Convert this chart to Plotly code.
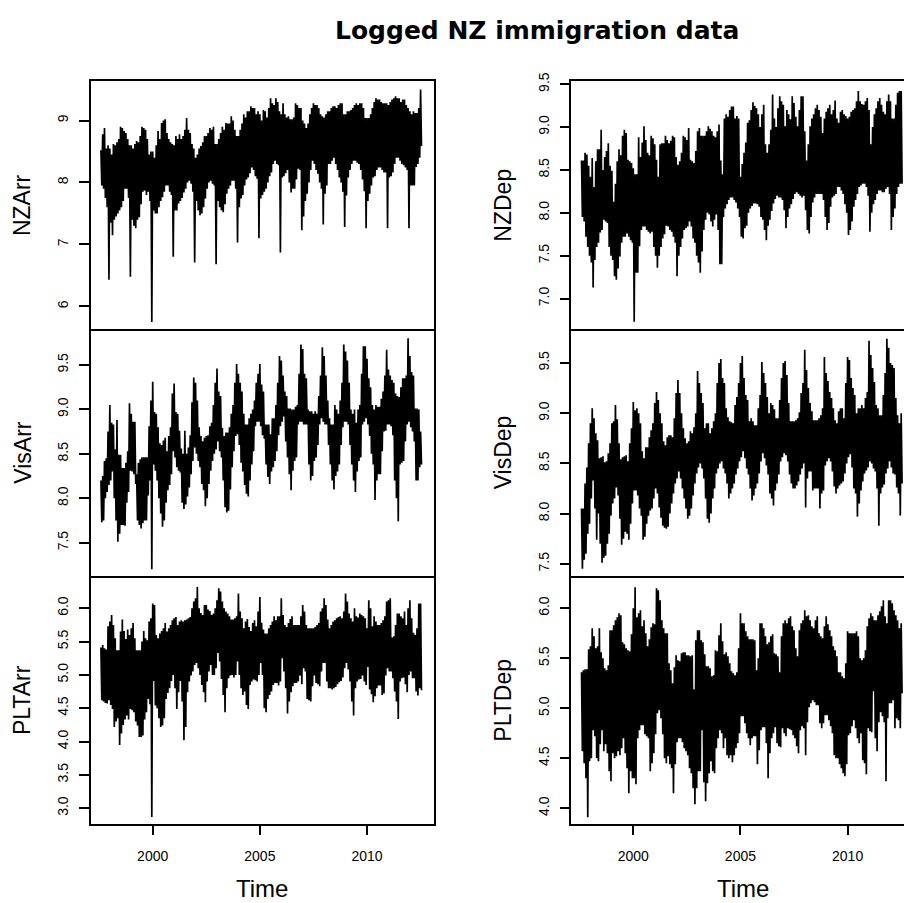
import plotly.graph_objects as go

W, H = 904, 903

# Monthly series, Aug 1997 .. Jul 2012: for every month the highest and the
# lowest daily (logged) count, so the dense daily band is traced by a zigzag.
START_YEAR, START_MONTH = 1997, 8

NZARR_HI = [
    8.52, 8.78, 8.88, 8.55, 8.60,
    8.55, 8.45, 8.62, 8.60, 8.65, 8.70, 8.90, 8.88, 8.83, 8.80, 8.70, 8.60,
    8.60, 8.55, 8.62, 8.67, 8.65, 8.75, 8.90, 8.88, 8.85, 8.70, 8.45, 8.50,
    8.50, 8.40, 8.60, 8.83, 8.70, 8.96, 9.00, 9.02, 8.80, 8.70, 8.65, 8.62,
    8.60, 8.75, 8.70, 8.78, 8.70, 8.75, 8.85, 9.04, 8.85, 8.80, 8.62, 8.55,
    8.40, 8.45, 8.55, 8.59, 8.65, 8.75, 8.75, 8.80, 8.88, 8.85, 8.90, 8.62,
    8.62, 8.70, 8.80, 8.90, 8.85, 8.96, 8.95, 8.95, 9.07, 9.00, 8.85, 8.75,
    8.75, 8.85, 8.95, 9.10, 9.05, 9.15, 9.15, 9.23, 9.20, 9.20, 9.10, 9.15,
    9.10, 9.00, 9.17, 9.15, 9.05, 9.20, 9.36, 9.28, 9.25, 9.36, 9.30, 9.15,
    9.10, 9.28, 9.10, 9.05, 9.07, 9.02, 9.02, 9.05, 9.28, 9.25, 9.20, 9.20,
    9.00, 8.95, 8.88, 8.95, 9.10, 9.20, 9.28, 9.25, 9.25, 9.20, 9.10, 9.07,
    9.05, 9.10, 9.15, 9.15, 9.20, 9.23, 9.23, 9.20, 9.25, 9.28, 9.28, 9.10,
    9.10, 9.15, 9.15, 9.17, 9.20, 9.25, 9.28, 9.25, 9.28, 9.28, 9.20, 9.04,
    9.04, 9.04, 9.10, 9.20, 9.30, 9.36, 9.34, 9.34, 9.30, 9.28, 9.28, 9.28,
    9.25, 9.30, 9.34, 9.36, 9.39, 9.36, 9.36, 9.30, 9.34, 9.34, 9.25, 9.20,
    9.15, 9.10, 9.15, 9.12, 9.12, 9.20, 9.50,
]
NZARR_LO = [
    7.95, 7.90, 7.75, 7.60, 6.43,
    7.35, 7.15, 7.40, 7.45, 7.50, 7.55, 7.60, 7.70, 7.90, 7.90, 7.75, 6.48,
    7.40, 7.30, 7.26, 7.40, 7.44, 7.65, 7.85, 7.87, 7.80, 7.85, 7.70, 5.75,
    7.55, 7.50, 7.50, 7.60, 7.70, 7.76, 7.85, 7.95, 7.95, 7.85, 7.80, 6.80,
    7.55, 7.55, 7.66, 7.70, 7.75, 7.84, 7.90, 8.00, 8.03, 7.98, 7.85, 6.71,
    7.70, 7.55, 7.47, 7.50, 7.60, 7.74, 7.90, 8.00, 8.03, 7.98, 7.95, 6.68,
    7.70, 7.60, 7.55, 7.52, 7.65, 7.82, 7.90, 7.95, 8.03, 8.03, 7.90, 7.03,
    7.60, 7.74, 7.80, 7.95, 8.05, 8.08, 8.15, 8.24, 8.20, 8.10, 8.06, 7.10,
    7.74, 7.80, 7.85, 7.90, 8.00, 8.10, 8.16, 8.30, 8.35, 8.30, 8.28, 6.87,
    8.08, 8.10, 8.15, 8.20, 8.00, 7.84, 7.90, 7.90, 8.05, 8.22, 8.20, 7.23,
    7.45, 7.70, 7.82, 8.00, 8.20, 8.35, 8.30, 8.20, 8.14, 8.00, 7.90, 7.32,
    7.82, 7.95, 8.30, 8.30, 8.35, 8.40, 8.30, 8.20, 8.08, 8.00, 7.85, 7.28,
    7.79, 8.08, 8.20, 8.30, 8.35, 8.35, 8.32, 8.30, 8.20, 8.05, 7.86, 7.26,
    7.70, 7.82, 7.95, 8.08, 8.10, 8.20, 8.24, 8.24, 8.20, 8.16, 8.16, 7.26,
    8.08, 8.10, 8.16, 8.30, 8.40, 8.40, 8.35, 8.30, 8.28, 8.24, 8.20, 7.26,
    7.95, 7.95, 7.95, 8.25, 8.30, 8.40, 8.59,
]

VISARR_HI = [
    8.20, 8.25, 8.42, 8.45, 8.75,
    9.05, 8.85, 8.83, 8.55, 8.88, 8.49, 8.49, 8.34, 8.34, 8.40, 8.53, 9.07,
    8.95, 8.86, 8.86, 8.27, 8.40, 8.44, 8.46, 8.46, 8.46, 8.46, 8.81, 9.10,
    9.31, 8.97, 8.95, 8.80, 8.62, 8.60, 8.65, 8.68, 8.53, 8.70, 8.80, 9.18,
    9.29, 8.97, 8.95, 8.76, 8.56, 8.50, 8.76, 8.50, 8.57, 8.71, 9.08, 9.36,
    9.30, 9.10, 8.80, 8.70, 8.64, 8.68, 8.70, 8.71, 8.81, 8.85, 9.05, 9.30,
    9.46, 9.20, 9.15, 8.79, 8.70, 8.74, 8.74, 8.80, 8.95, 9.05, 9.30, 9.51,
    9.40, 9.30, 9.20, 8.95, 8.83, 8.83, 8.90, 8.95, 9.00, 9.10, 9.30, 9.40,
    9.51, 9.28, 9.20, 8.83, 8.83, 8.83, 8.72, 8.90, 8.90, 9.05, 9.30, 9.60,
    9.55, 9.38, 9.20, 9.15, 9.01, 9.01, 9.00, 9.00, 9.03, 9.05, 9.40, 9.73,
    9.68, 9.40, 9.35, 9.00, 8.98, 8.98, 8.95, 8.98, 8.95, 9.15, 9.38, 9.70,
    9.60, 9.38, 9.10, 8.90, 8.83, 8.83, 9.05, 9.00, 8.95, 9.10, 9.30, 9.73,
    9.65, 9.55, 9.30, 9.00, 8.95, 9.00, 8.85, 9.00, 9.05, 9.40, 9.71, 9.71,
    9.57, 9.35, 9.25, 9.05, 9.00, 9.05, 9.03, 9.03, 9.12, 9.20, 9.38, 9.67,
    9.45, 9.38, 9.33, 9.30, 9.18, 9.15, 9.14, 9.25, 9.35, 9.35, 9.38, 9.80,
    9.60, 9.42, 9.38, 9.01, 9.01, 9.00, 8.75,
]
VISARR_LO = [
    7.73, 7.75, 8.00, 8.07, 8.15,
    8.20, 8.30, 8.00, 7.75, 7.51, 7.60, 7.70, 7.70, 7.69, 7.95, 8.07, 8.31,
    8.30, 8.27, 8.16, 7.75, 7.70, 7.66, 7.72, 7.75, 7.75, 8.03, 8.20, 7.20,
    8.38, 8.31, 8.20, 8.00, 7.83, 7.68, 7.75, 7.95, 8.09, 8.15, 8.27, 8.53,
    8.46, 8.35, 8.31, 8.29, 7.95, 7.88, 7.93, 8.02, 8.12, 8.27, 8.42, 8.57,
    8.50, 8.42, 8.35, 8.16, 8.09, 7.91, 8.00, 8.16, 8.31, 8.42, 8.50, 8.55,
    8.64, 8.53, 8.46, 8.20, 7.90, 7.84, 7.86, 8.10, 8.35, 8.53, 8.70, 8.72,
    8.60, 8.40, 8.30, 8.15, 8.05, 8.02, 8.20, 8.38, 8.53, 8.81, 8.86, 8.86,
    8.81, 8.71, 8.67, 8.38, 8.24, 8.16, 8.30, 8.35, 8.42, 8.53, 8.71, 8.81,
    8.86, 8.92, 8.64, 8.46, 8.27, 8.09, 8.31, 8.42, 8.46, 8.83, 8.86, 8.86,
    8.83, 8.83, 8.83, 8.38, 8.20, 8.25, 8.42, 8.46, 8.60, 8.83, 8.90, 8.86,
    8.83, 8.83, 8.60, 8.38, 8.20, 8.10, 8.25, 8.30, 8.38, 8.60, 8.80, 8.86,
    8.86, 8.83, 8.60, 8.38, 8.20, 8.07, 8.30, 8.42, 8.46, 8.83, 8.86, 8.90,
    8.83, 8.70, 8.50, 8.38, 7.98, 8.20, 8.27, 8.27, 8.53, 8.75, 8.76, 8.83,
    8.83, 8.81, 8.71, 8.20, 8.00, 7.74, 8.38, 8.40, 8.42, 8.64, 8.83, 8.86,
    8.80, 8.75, 8.64, 8.20, 8.20, 8.35, 8.38,
]

PLTARR_HI = [
    5.41, 5.45, 5.40, 5.38, 5.73,
    5.80, 5.90, 5.75, 5.55, 5.37, 5.37, 5.65, 5.83, 5.66, 5.54, 5.68, 5.60,
    5.70, 5.78, 5.55, 5.37, 5.37, 5.37, 5.50, 5.66, 5.55, 5.52, 5.80, 5.85,
    6.07, 6.05, 5.60, 5.55, 5.62, 5.66, 5.70, 5.78, 5.65, 5.70, 5.75, 5.82,
    5.85, 5.87, 5.75, 5.80, 5.82, 5.80, 5.82, 5.83, 5.85, 5.87, 6.00, 6.10,
    6.15, 6.32, 6.00, 5.93, 5.90, 6.05, 6.05, 5.98, 5.96, 5.90, 5.92, 6.00,
    6.12, 6.30, 6.25, 6.10, 6.00, 5.95, 5.92, 5.88, 5.83, 5.83, 5.85, 5.88,
    6.22, 5.95, 5.85, 5.70, 5.80, 5.84, 5.72, 5.66, 5.78, 5.82, 5.73, 5.95,
    6.17, 5.78, 5.68, 5.62, 5.62, 5.70, 5.75, 5.80, 5.88, 5.82, 5.88, 5.88,
    6.15, 5.90, 5.75, 5.72, 5.78, 5.84, 5.88, 5.75, 5.75, 5.75, 5.75, 5.88,
    6.05, 5.95, 5.75, 5.70, 5.70, 5.70, 5.70, 5.72, 5.75, 5.78, 5.95, 6.00,
    6.15, 6.05, 5.83, 5.70, 5.75, 5.80, 5.82, 5.85, 5.87, 5.88, 5.85, 5.95,
    6.22, 6.10, 5.92, 5.85, 5.80, 6.00, 5.88, 5.86, 5.92, 5.90, 5.88, 5.85,
    5.70, 6.12, 6.00, 5.73, 5.88, 5.80, 5.75, 5.75, 5.78, 5.82, 5.88, 6.10,
    6.12, 6.15, 5.56, 5.58, 5.75, 5.92, 5.92, 5.88, 5.85, 5.95, 5.75, 6.00,
    6.12, 5.85, 5.63, 5.60, 5.70, 6.07, 6.07,
]
PLTARR_LO = [
    4.62, 4.60, 4.58, 4.57, 4.62,
    4.55, 4.49, 4.22, 4.30, 4.35, 3.95, 4.12, 4.25, 4.33, 4.39, 4.33, 4.49,
    4.47, 4.44, 4.30, 4.24, 4.07, 4.07, 4.09, 4.33, 4.44, 4.64, 4.56, 2.87,
    4.91, 4.54, 4.50, 4.35, 4.22, 4.24, 4.35, 4.64, 4.73, 4.80, 4.91, 5.00,
    4.80, 4.49, 4.74, 4.91, 4.60, 4.02, 4.22, 4.74, 4.90, 4.99, 5.05, 5.15,
    5.18, 5.10, 5.00, 4.85, 4.74, 4.59, 4.90, 5.05, 5.15, 5.00, 5.00, 5.10,
    5.33, 5.20, 4.94, 4.70, 4.44, 4.80, 4.95, 4.99, 5.00, 4.96, 5.00, 5.20,
    5.00, 4.80, 4.70, 4.75, 4.55, 4.49, 4.85, 4.90, 4.93, 4.92, 4.90, 5.00,
    5.18, 5.00, 4.50, 4.44, 4.64, 4.70, 4.75, 4.85, 4.88, 4.88, 4.84, 4.90,
    5.25, 5.05, 4.80, 4.42, 4.60, 4.74, 4.83, 4.88, 4.88, 4.90, 4.99, 4.86,
    5.10, 5.05, 4.64, 4.62, 4.60, 4.83, 4.99, 4.88, 4.86, 4.83, 5.05, 5.18,
    5.18, 4.90, 4.80, 4.80, 4.78, 4.80, 4.82, 4.86, 4.89, 4.91, 4.96, 5.10,
    5.18, 5.08, 4.90, 4.60, 4.39, 4.80, 4.90, 4.93, 4.94, 4.99, 4.90, 4.85,
    5.12, 4.78, 4.71, 4.59, 4.68, 4.80, 4.84, 4.84, 4.70, 4.72, 4.99, 5.10,
    5.05, 5.05, 4.95, 4.75, 4.60, 4.34, 4.90, 4.95, 4.96, 4.86, 4.74, 5.00,
    5.05, 4.95, 4.95, 4.75, 4.69, 4.80, 4.77,
]

NZDEP_HI = [
    8.61, 8.61, 8.70, 8.68, 8.55,
    8.42, 8.64, 8.30, 8.60, 8.74, 8.74, 8.97, 8.50, 8.65, 8.72, 8.81, 8.55,
    8.49, 8.13, 8.34, 8.60, 8.74, 8.67, 8.90, 8.97, 8.93, 8.62, 8.60, 8.58,
    8.52, 8.45, 8.45, 8.88, 8.65, 8.82, 9.01, 8.85, 8.70, 8.67, 8.90, 8.87,
    8.80, 8.62, 8.42, 8.80, 8.81, 8.81, 8.90, 8.85, 8.81, 8.84, 8.90, 8.88,
    8.65, 8.56, 8.60, 8.70, 8.90, 8.88, 8.85, 8.99, 8.62, 8.60, 8.58, 8.72,
    8.95, 8.99, 8.90, 8.90, 8.90, 8.95, 9.01, 8.98, 8.95, 8.90, 8.88, 8.95,
    9.03, 8.61, 8.45, 9.10, 9.15, 9.12, 9.20, 9.24, 9.24, 9.10, 9.13, 9.10,
    8.42, 8.57, 8.70, 8.82, 9.05, 9.08, 9.20, 9.29, 9.25, 9.22, 9.15, 9.00,
    9.15, 9.26, 8.80, 8.70, 8.80, 8.97, 9.38, 9.10, 9.00, 9.22, 9.36, 9.30,
    9.26, 9.01, 9.20, 9.15, 9.09, 9.36, 9.28, 9.12, 9.01, 9.20, 9.36, 9.36,
    8.95, 8.61, 8.80, 9.01, 9.10, 9.15, 9.22, 9.26, 9.20, 9.12, 8.93, 9.10,
    9.18, 9.22, 9.26, 9.15, 9.20, 9.31, 9.10, 9.05, 9.18, 9.20, 9.15, 9.13,
    9.10, 9.12, 9.18, 9.20, 9.22, 9.30, 9.42, 9.30, 9.27, 9.26, 9.30, 9.34,
    9.20, 8.80, 9.00, 9.15, 9.22, 9.30, 9.34, 9.26, 9.18, 9.15, 9.30, 9.38,
    9.30, 9.10, 9.10, 9.26, 9.40, 9.42, 9.42,
]
NZDEP_LO = [
    7.95, 7.90, 7.72, 7.60, 7.50,
    7.42, 7.13, 7.45, 7.60, 7.65, 7.77, 7.80, 7.92, 7.90, 7.88, 7.60, 7.50,
    7.45, 7.26, 7.22, 7.35, 7.49, 7.65, 7.72, 7.72, 7.76, 7.72, 7.68, 7.65,
    6.73, 7.30, 7.30, 7.61, 7.80, 7.84, 7.84, 7.80, 7.78, 7.76, 7.78, 7.60,
    7.50, 7.36, 7.50, 7.60, 7.70, 7.75, 7.85, 7.84, 7.80, 7.78, 7.72, 7.65,
    7.26, 7.50, 7.60, 7.70, 7.80, 7.82, 7.84, 7.90, 7.84, 7.70, 7.65, 7.50,
    7.42, 7.30, 7.55, 7.80, 7.92, 8.00, 7.98, 7.90, 7.84, 7.92, 7.98, 7.80,
    7.40, 7.40, 7.95, 8.05, 8.10, 8.15, 8.18, 8.18, 8.15, 8.12, 8.05, 7.95,
    7.72, 7.70, 7.82, 7.85, 8.00, 8.05, 8.08, 8.11, 8.11, 8.10, 8.07, 7.95,
    7.92, 7.80, 7.68, 7.85, 7.92, 8.02, 8.11, 8.16, 8.20, 8.18, 8.18, 8.15,
    8.03, 7.82, 7.95, 8.05, 8.10, 8.16, 8.22, 8.24, 8.22, 8.20, 8.18, 8.20,
    8.03, 7.80, 7.76, 7.95, 8.12, 8.18, 8.22, 8.22, 8.22, 8.22, 8.15, 7.95,
    7.80, 7.88, 8.07, 8.18, 8.20, 8.22, 8.30, 8.30, 8.26, 8.22, 8.10, 8.00,
    7.74, 7.80, 7.90, 8.07, 8.15, 8.22, 8.30, 8.32, 8.34, 8.34, 8.30, 8.20,
    7.78, 8.00, 8.10, 8.15, 8.22, 8.26, 8.26, 8.24, 8.24, 8.28, 8.30, 8.22,
    7.80, 7.95, 8.05, 8.22, 8.30, 8.34, 8.34,
]

VISDEP_HI = [
    8.05, 8.05, 8.30, 8.46, 8.70,
    8.90, 9.05, 8.95, 8.80, 8.73, 8.55, 8.56, 8.57, 8.51, 8.52, 8.60, 8.70,
    8.90, 8.92, 9.08, 8.94, 8.70, 8.54, 8.56, 8.57, 8.58, 8.52, 8.70, 8.85,
    9.11, 9.03, 9.05, 9.00, 8.90, 8.62, 8.55, 8.66, 8.66, 8.76, 8.83, 8.90,
    9.10, 9.21, 9.13, 9.00, 8.90, 8.72, 8.68, 8.76, 8.78, 8.78, 8.76, 8.95,
    9.20, 9.33, 9.20, 9.00, 8.85, 8.75, 8.70, 8.72, 8.82, 8.80, 8.86, 9.00,
    9.42, 9.30, 9.20, 9.10, 8.85, 8.90, 8.90, 8.80, 8.85, 8.92, 9.00, 9.30,
    9.50, 9.54, 9.35, 9.30, 9.05, 8.96, 8.92, 8.91, 8.90, 9.08, 9.16, 9.30,
    9.50, 9.57, 9.35, 9.18, 9.13, 8.92, 8.95, 8.92, 8.88, 8.88, 9.05, 9.18,
    9.51, 9.40, 9.30, 9.16, 9.00, 9.10, 9.08, 9.04, 8.95, 8.95, 9.13, 9.35,
    9.50, 9.52, 9.38, 9.10, 8.92, 8.92, 8.92, 8.93, 8.95, 9.01, 9.20, 9.30,
    9.63, 9.43, 9.25, 9.10, 9.02, 8.93, 8.93, 8.93, 8.95, 8.98, 9.05, 9.56,
    9.40, 9.32, 9.21, 9.15, 9.05, 8.93, 8.90, 9.02, 9.05, 9.05, 8.95, 9.30,
    9.56, 9.53, 9.35, 9.25, 9.18, 9.00, 9.05, 9.05, 9.08, 9.05, 9.15, 9.21,
    9.72, 9.58, 9.45, 9.31, 9.08, 9.05, 8.98, 8.98, 9.18, 9.40, 9.74, 9.65,
    9.50, 9.48, 9.45, 9.15, 8.98, 8.90, 9.00,
]
VISDEP_LO = [
    7.45, 7.54, 7.60, 7.80, 7.90,
    8.15, 8.33, 8.05, 7.74, 8.00, 7.70, 7.51, 7.56, 7.58, 7.70, 7.80, 7.98,
    8.10, 8.15, 8.26, 8.18, 7.95, 7.69, 7.75, 7.82, 7.80, 7.74, 7.90, 8.10,
    8.23, 8.23, 8.18, 8.05, 7.98, 7.74, 7.77, 7.90, 7.98, 8.03, 8.05, 8.15,
    8.25, 8.20, 8.06, 7.96, 7.88, 7.86, 7.85, 7.87, 8.00, 8.10, 8.20, 8.30,
    8.35, 8.42, 8.35, 8.25, 8.15, 8.05, 7.95, 7.98, 8.05, 8.18, 8.30, 8.40,
    8.46, 8.50, 8.45, 8.35, 8.15, 7.95, 7.91, 8.00, 8.15, 8.25, 8.40, 8.45,
    8.50, 8.52, 8.45, 8.40, 8.30, 8.15, 8.20, 8.25, 8.30, 8.39, 8.45, 8.52,
    8.56, 8.62, 8.55, 8.45, 8.39, 8.25, 8.13, 8.18, 8.25, 8.30, 8.40, 8.52,
    8.60, 8.55, 8.48, 8.39, 8.20, 8.15, 8.08, 8.23, 8.30, 8.39, 8.52, 8.56,
    8.60, 8.58, 8.52, 8.39, 8.30, 8.25, 8.25, 8.28, 8.32, 8.39, 8.45, 8.50,
    8.06, 8.35, 8.42, 8.42, 8.23, 8.25, 8.25, 8.25, 8.05, 8.20, 8.23, 8.48,
    8.52, 8.55, 8.52, 8.42, 8.27, 8.20, 8.25, 8.28, 8.30, 8.32, 8.40, 8.50,
    8.56, 8.59, 8.46, 8.25, 8.20, 7.97, 8.10, 8.23, 8.32, 8.40, 8.43, 8.46,
    8.52, 8.50, 8.45, 8.42, 8.25, 7.88, 8.20, 8.26, 8.29, 8.40, 8.45, 8.52,
    8.46, 8.40, 8.39, 8.26, 8.20, 7.98, 8.30,
]

PLTDEP_HI = [
    5.36, 5.38, 5.39, 5.39, 5.59,
    5.62, 5.80, 5.72, 5.60, 5.62, 5.80, 5.56, 5.50, 5.40, 5.38, 5.43, 5.78,
    5.78, 5.83, 5.88, 5.91, 5.95, 5.93, 5.66, 5.64, 5.60, 5.58, 5.57, 5.74,
    6.00, 6.21, 5.91, 5.95, 5.98, 5.82, 5.88, 5.75, 5.62, 5.69, 5.81, 5.85,
    5.84, 6.20, 6.18, 6.08, 5.88, 5.80, 5.75, 5.75, 5.45, 5.38, 5.25, 5.41,
    5.53, 5.48, 5.47, 5.55, 5.56, 5.56, 5.53, 5.53, 5.52, 5.53, 5.19, 5.68,
    5.78, 5.78, 5.68, 5.66, 5.54, 5.42, 5.42, 5.40, 5.32, 5.33, 5.58, 5.57,
    5.73, 5.85, 5.67, 5.54, 5.56, 5.52, 5.45, 5.37, 5.35, 5.33, 5.36, 5.60,
    5.95, 5.85, 5.85, 5.77, 5.72, 5.69, 5.69, 5.69, 5.68, 5.38, 5.50, 5.85,
    5.85, 5.80, 5.72, 5.64, 5.66, 5.72, 5.74, 5.55, 5.54, 5.52, 5.36, 5.72,
    5.85, 5.88, 5.85, 5.90, 5.92, 5.82, 5.78, 5.60, 5.52, 5.78, 5.85, 5.88,
    5.98, 5.92, 5.93, 5.88, 5.82, 5.80, 5.88, 5.92, 5.75, 5.72, 5.70, 5.82,
    5.92, 5.84, 5.78, 5.72, 5.62, 5.58, 5.52, 5.36, 5.36, 5.32, 5.30, 5.45,
    5.77, 5.75, 5.75, 5.75, 5.75, 5.77, 5.72, 5.50, 5.48, 5.50, 5.58, 5.82,
    5.90, 5.95, 5.92, 5.88, 5.88, 5.93, 5.97, 6.02, 6.08, 5.92, 5.85, 6.08,
    6.08, 6.05, 5.98, 5.93, 5.88, 5.80, 5.85,
]
PLTDEP_LO = [
    4.57, 4.45, 4.30, 3.91, 4.47,
    4.50, 4.78, 4.72, 4.50, 4.47, 4.64, 4.78, 4.57, 4.64, 4.55, 4.37, 4.27,
    4.55, 4.50, 4.52, 4.57, 4.53, 4.60, 4.70, 4.55, 4.40, 4.15, 4.37, 4.30,
    4.30, 4.24, 4.70, 4.78, 4.83, 4.83, 4.74, 4.72, 4.70, 4.37, 4.45, 4.55,
    4.74, 4.95, 4.98, 4.90, 4.74, 4.50, 4.45, 4.52, 4.44, 4.40, 4.15, 4.44,
    4.66, 4.70, 4.70, 4.66, 4.60, 4.57, 4.53, 4.40, 4.35, 4.20, 4.04, 4.20,
    4.37, 4.37, 4.78, 4.26, 4.07, 4.25, 4.35, 4.47, 4.37, 4.35, 4.60, 4.70,
    4.78, 4.75, 4.60, 4.70, 4.53, 4.50, 4.53, 4.46, 4.53, 4.60, 4.65, 4.75,
    4.92, 4.92, 4.85, 4.75, 4.70, 4.63, 4.70, 4.72, 4.72, 4.44, 4.58, 4.78,
    4.81, 4.81, 4.65, 4.30, 4.55, 4.70, 4.75, 4.81, 4.65, 4.62, 4.61, 4.80,
    4.75, 4.72, 4.80, 4.79, 4.78, 4.73, 4.70, 4.62, 4.55, 4.78, 4.82, 4.80,
    4.53, 4.86, 5.01, 5.05, 5.08, 5.06, 5.03, 5.03, 4.85, 4.80, 4.85, 4.93,
    4.93, 4.88, 4.82, 4.75, 4.53, 4.50, 4.50, 4.44, 4.40, 4.35, 4.32, 4.44,
    4.73, 4.75, 4.82, 4.88, 4.80, 4.70, 4.65, 4.75, 4.48, 4.45, 4.34, 4.80,
    4.77, 4.76, 5.17, 4.70, 4.57, 4.86, 4.96, 4.92, 4.86, 4.27, 4.90, 5.05,
    5.05, 5.08, 4.80, 4.90, 4.88, 4.80, 5.15,
]

X_TICKS = [2000, 2005, 2010]

# (y title, high, low, column, row, y range, y tick values, y tick text)
PANELS = [
    ("NZArr", NZARR_HI, NZARR_LO, 0, 0, [5.639, 9.638],
     [6, 7, 8, 9], ["6", "7", "8", "9"]),
    ("NZDep", NZDEP_HI, NZDEP_LO, 1, 0, [6.647, 9.538],
     [7.0, 7.5, 8.0, 8.5, 9.0, 9.5], ["7.0", "7.5", "8.0", "8.5", "9.0", "9.5"]),
    ("VisArr", VISARR_HI, VISARR_LO, 0, 1, [7.122, 9.907],
     [7.5, 8.0, 8.5, 9.0, 9.5], ["7.5", "8.0", "8.5", "9.0", "9.5"]),
    ("VisDep", VISDEP_HI, VISDEP_LO, 1, 1, [7.376, 9.840],
     [7.5, 8.0, 8.5, 9.0, 9.5], ["7.5", "8.0", "8.5", "9.0", "9.5"]),
    ("PLTArr", PLTARR_HI, PLTARR_LO, 0, 2, [2.771, 6.479],
     [3.0, 3.5, 4.0, 4.5, 5.0, 5.5, 6.0],
     ["3.0", "3.5", "4.0", "4.5", "5.0", "5.5", "6.0"]),
    ("PLTDep", PLTDEP_HI, PLTDEP_LO, 1, 2, [3.848, 6.319],
     [4.0, 4.5, 5.0, 5.5, 6.0], ["4.0", "4.5", "5.0", "5.5", "6.0"]),
]

# ---- page geometry (pixels) ----
COL_LEFT = [90.7, 571.3]
COL_RIGHT = [434.3, 904.0]
ROW_TOP = [72.7, 323.0, 573.0]
ROW_BOTTOM = [323.0, 573.0, 822.7]
X_RANGE_LEFT = [1997.107, 2013.14]
PX_PER_YEAR = (COL_RIGHT[0] - COL_LEFT[0]) / (X_RANGE_LEFT[1] - X_RANGE_LEFT[0])

SANS = "Liberation Sans, Arial, sans-serif"
FRAME_W = 1.5
SERIES_W = 1.7


def month_times(n):
    """Decimal-year position of each monthly high and the following low."""
    t0 = START_YEAR + (START_MONTH - 1) / 12.0
    xs = []
    for i in range(n):
        t = t0 + i / 12.0
        xs.extend([t, t + 1.0 / 24.0])
    return xs


def zigzag(hi, lo):
    ys = []
    for h, l in zip(hi, lo):
        ys.extend([h, l])
    return ys


fig = go.Figure()
layout = dict(
    width=W, height=H, autosize=False,
    margin=dict(l=0, r=0, t=0, b=0, pad=0),
    paper_bgcolor="white", plot_bgcolor="white",
    showlegend=False,
    font=dict(family=SANS, color="black"),
)
annotations = []

for k, (name, hi, lo, col, row, yr, tv, tt) in enumerate(PANELS, start=1):
    n = min(len(hi), len(lo))
    fig.add_trace(go.Scatter(
        x=month_times(n), y=zigzag(hi[:n], lo[:n]),
        mode="lines", line=dict(color="black", width=SERIES_W),
        hoverinfo="skip", xaxis=f"x{k}", yaxis=f"y{k}",
    ))

    x_end = X_RANGE_LEFT[0] + (COL_RIGHT[col] - COL_LEFT[col]) / PX_PER_YEAR
    bottom = row == 2
    # only the top row draws its upper edge; lower rows share the line above
    layout[f"xaxis{k}"] = dict(
        domain=[COL_LEFT[col] / W, COL_RIGHT[col] / W],
        anchor=f"y{k}", range=[X_RANGE_LEFT[0], x_end],
        showgrid=False, zeroline=False,
        showline=True, mirror=(row == 0), linecolor="black", linewidth=FRAME_W,
        tickvals=X_TICKS if bottom else [],
        ticktext=[str(v) for v in X_TICKS] if bottom else [],
        ticks="outside" if bottom else "", ticklen=10, tickwidth=FRAME_W,
        tickcolor="black", showticklabels=bottom,
        tickfont=dict(family=SANS, size=14, color="black"),
        ticklabelstandoff=9,
    )
    layout[f"yaxis{k}"] = dict(
        domain=[1 - ROW_BOTTOM[row] / H, 1 - ROW_TOP[row] / H],
        anchor=f"x{k}", range=yr,
        showgrid=False, zeroline=False,
        showline=True, mirror=(col == 0), linecolor="black", linewidth=FRAME_W,
        tickvals=tv, ticktext=tt, tickangle=-90,
        ticks="outside", ticklen=10, tickwidth=FRAME_W, tickcolor="black",
        tickfont=dict(family=SANS, size=14, color="black"),
        ticklabelstandoff=5,
    )

    # y-axis title, rotated, to the left of the tick labels
    annotations.append(dict(
        text=name, x=(COL_LEFT[col] - 68.5) / W,
        y=1 - (ROW_TOP[row] + ROW_BOTTOM[row]) / 2 / H,
        xref="paper", yref="paper", xanchor="center", yanchor="middle",
        textangle=-90, showarrow=False,
        font=dict(family=SANS, size=23, color="black"),
    ))
    if bottom:
        annotations.append(dict(
            text="Time", x=(COL_LEFT[col] + 171.5) / W, y=1 - 888.0 / H,
            xref="paper", yref="paper", xanchor="center", yanchor="middle",
            showarrow=False, font=dict(family=SANS, size=24, color="black"),
        ))

annotations.append(dict(
    text="<b>Logged NZ immigration data</b>", x=537.0 / W, y=1 - 22.0 / H,
    xref="paper", yref="paper", xanchor="center", yanchor="middle",
    showarrow=False, font=dict(family="DejaVu Sans, sans-serif", size=25,
                               color="black"),
))

layout["annotations"] = annotations
fig.update_layout(**layout)
fig.write_html("out.html")
